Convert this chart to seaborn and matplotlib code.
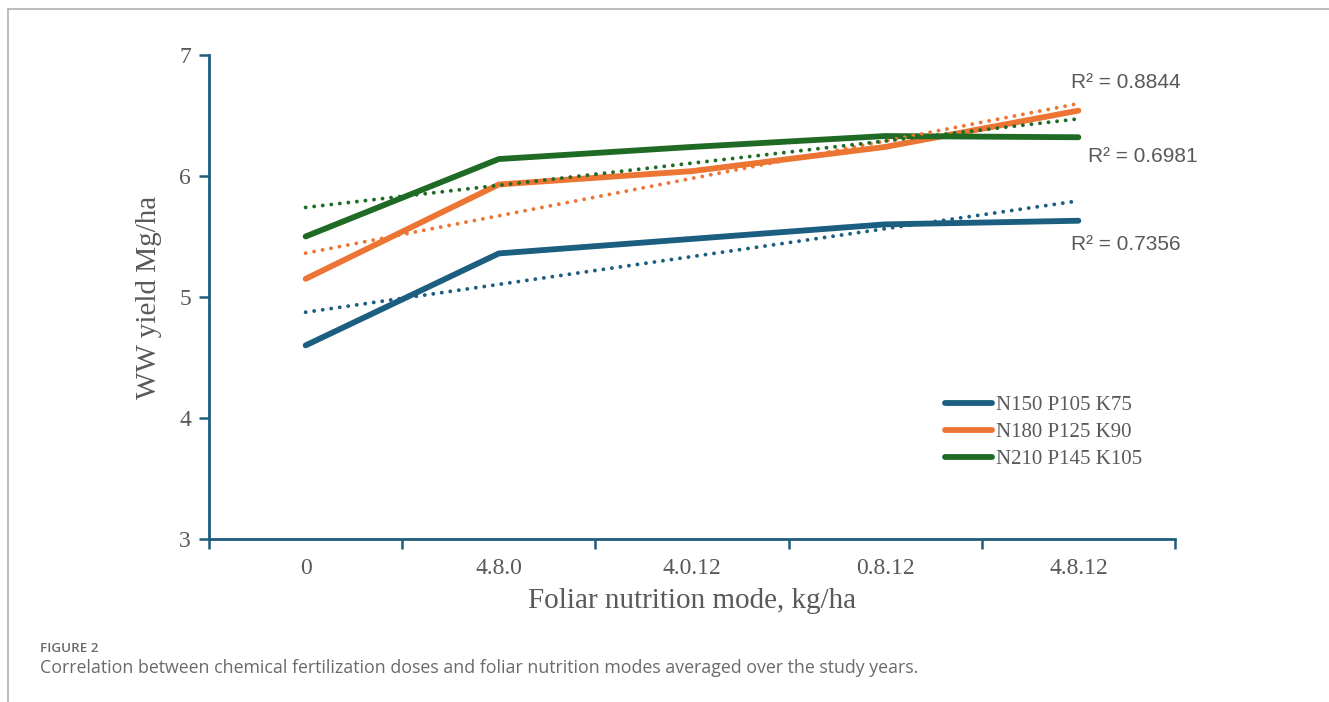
import numpy as np
import pandas as pd
import matplotlib
matplotlib.use("Agg")
import matplotlib.pyplot as plt
import seaborn as sns

modes = ["0", "4.8.0", "4.0.12", "0.8.12", "4.8.12"]
doses = ["N150 P105 K75", "N180 P125 K90", "N210 P145 K105"]
yield_n150 = [4.60, 5.36, 5.48, 5.60, 5.63]
yield_n180 = [5.15, 5.93, 6.04, 6.24, 6.54]
yield_n210 = [5.50, 6.14, 6.24, 6.33, 6.32]
r2_labels = ["R² = 0.7356", "R² = 0.8844", "R² = 0.6981"]
colors = ["#1b5e80", "#ed7534", "#1f6b26"]

df = pd.DataFrame({
    "mode": list(range(len(modes))) * 3,
    "yield": yield_n150 + yield_n180 + yield_n210,
    "dose": [d for d in doses for _ in modes],
})

sns.set_style("white")
plt.rcParams["font.family"] = ["Liberation Serif", "DejaVu Serif"]
GREY = "#595959"
AXC = "#1f5c7a"

fig = plt.figure(figsize=(13.29, 7.02), dpi=100)
ax = fig.add_axes([0.1573, 0.2322, 0.7268, 0.6895])

sns.lineplot(data=df, x="mode", y="yield", hue="dose", palette=colors,
             linewidth=4.2, ax=ax, legend=True, solid_capstyle="round")

# linear trend lines
xs = np.arange(len(modes))
for vals, c in zip([yield_n150, yield_n180, yield_n210], colors):
    k, b = np.polyfit(xs, vals, 1)
    ax.plot(xs, k * xs + b, color=c, linestyle=(0, (0.01, 2.2)),
            linewidth=2.8, dash_capstyle="round")

# R² labels
ax.text(3.96, 5.43, r2_labels[0], fontsize=15, color=GREY,
        family="Liberation Sans", va="center")
ax.text(3.96, 6.77, r2_labels[1], fontsize=15, color=GREY,
        family="Liberation Sans", va="center")
ax.text(4.05, 6.16, r2_labels[2], fontsize=15, color=GREY,
        family="Liberation Sans", va="center")

ax.set_xlim(-0.5, 4.5)
ax.set_ylim(3, 7)
ax.set_yticks([3, 4, 5, 6, 7])
ax.set_xticks(xs)
ax.set_xticklabels(modes)
ax.set_xticks(np.arange(-0.5, 4.6, 1), minor=True)
ax.tick_params(axis="x", which="major", bottom=False, length=0, pad=14,
               labelsize=17, labelcolor=GREY)
ax.tick_params(axis="x", which="minor", bottom=True, length=7, width=1.8,
               color=AXC, direction="out")
ax.tick_params(axis="y", left=True, length=7, width=1.8, color=AXC, direction="out",
               labelsize=17, labelcolor=GREY, pad=6)
for s in ["top", "right"]:
    ax.spines[s].set_visible(False)
for s in ["left", "bottom"]:
    ax.spines[s].set_color(AXC)
    ax.spines[s].set_linewidth(2)

ax.set_xlabel("Foliar nutrition mode, kg/ha", fontsize=21, color=GREY, labelpad=6)
ax.set_ylabel("WW yield Mg/ha", fontsize=21, color=GREY, labelpad=12)

leg = ax.legend(loc="upper left", bbox_to_anchor=(0.742, 0.335), frameon=False,
                fontsize=15, handlelength=2.3, handletextpad=0.15,
                labelspacing=0.35, labelcolor=GREY)
for h in leg.get_lines():
    h.set_linewidth(4.2)
    h.set_solid_capstyle("round")

# page frame and caption
fig.add_artist(plt.Line2D([8 / 1329, 1], [1 - 9 / 702, 1 - 9 / 702],
                          color="#b0b0b0", linewidth=1.2))
fig.add_artist(plt.Line2D([8 / 1329, 8 / 1329], [0, 1 - 9 / 702],
                          color="#b0b0b0", linewidth=1.2))
fig.text(40 / 1329, 1 - 648 / 702, "FIGURE 2", fontsize=9.7, color="#6a6a6a",
         family="Open Sans", fontweight="semibold", va="center")
fig.text(40 / 1329, 1 - 668 / 702,
         "Correlation between chemical fertilization doses and foliar nutrition modes averaged over the study years.",
         fontsize=12.8, color="#6a6a6a", family="Open Sans", va="center")

fig.savefig("out.png", dpi=100)
